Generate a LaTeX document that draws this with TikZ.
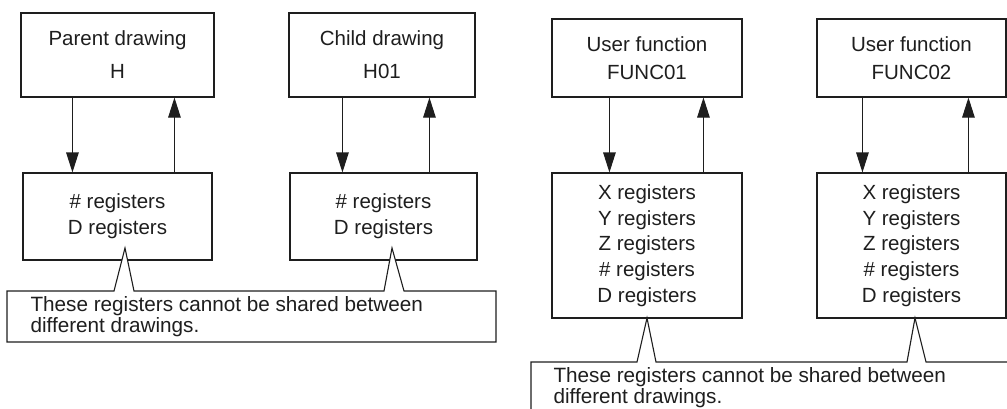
\documentclass[tikz,border=0pt]{standalone}
\usepackage{fontspec}
\setmainfont{Liberation Sans}
\usetikzlibrary{arrows.meta}
\definecolor{ink}{RGB}{30,30,30}
\begin{document}
\begin{tikzpicture}[x=1pt,y=-1pt,line width=1.1pt,
  ln/.style={draw=ink},
  box/.style={draw=ink,rectangle,inner sep=0pt,align=center,text=ink},
  arr/.style={draw=ink,-{Triangle[length=20pt,width=12.5pt]}},
  note/.style={font=\fontsize{20.7}{20.5}\selectfont,align=left,anchor=north west,inner sep=0pt,text=ink}]
\useasboundingbox (0,0) rectangle (1007,408);
\begin{scope}
\clip (0,0) rectangle (1007,408);
% left group
\node[box,minimum width=193pt,minimum height=84pt,font=\fontsize{20.5}{33}\selectfont] (p1) at (117.5,55) {Parent drawing\\H};
\node[box,minimum width=186pt,minimum height=84pt,font=\fontsize{20.5}{33}\selectfont] (p2) at (382,55) {Child drawing\\H01};
\node[box,minimum width=189pt,minimum height=87pt,font=\fontsize{20.5}{26}\selectfont] (r1) at (117.5,216.5) {\# registers\\D registers};
\node[box,minimum width=187pt,minimum height=87pt,font=\fontsize{20.5}{26}\selectfont] (r2) at (383.5,216.5) {\# registers\\D registers};
\draw[arr] ([xshift=52pt]p1.south west) -- ([xshift=52pt]p1.south west |- r1.north);
\draw[arr] ([xshift=154pt]p1.south west |- r1.north) -- ([xshift=154pt]p1.south west);
\draw[arr] ([xshift=54pt]p2.south west) -- ([xshift=54pt]p2.south west |- r2.north);
\draw[arr] ([xshift=141pt]p2.south west |- r2.north) -- ([xshift=141pt]p2.south west);
% left callout
\draw[ln,fill=white] (7,291) -- (114,291) -- (125,248) -- (134,291) -- (384,291) -- (392,248) -- (404,291) -- (496,291) -- (496,342) -- (7,342) -- cycle;
\node[note] (n1) at (30,296) {These registers cannot be shared between\\different drawings.};
% right group
\node[box,minimum width=190pt,minimum height=78pt,font=\fontsize{20.5}{28}\selectfont] (f1) at (647,58) {User function\\FUNC01};
\node[box,minimum width=189pt,minimum height=78pt,font=\fontsize{20.5}{28}\selectfont] (f2) at (911.5,58) {User function\\FUNC02};
\node[box,minimum width=190pt,minimum height=145pt,font=\fontsize{20.5}{25.6}\selectfont] (g1) at (647,245.5) {X registers\\Y registers\\Z registers\\\# registers\\D registers};
\node[box,minimum width=189pt,minimum height=145pt,font=\fontsize{20.5}{25.6}\selectfont] (g2) at (911.5,245.5) {X registers\\Y registers\\Z registers\\\# registers\\D registers};
\draw[arr] ([xshift=58pt]f1.south west) -- ([xshift=58pt]f1.south west |- g1.north);
\draw[arr] ([xshift=152pt]f1.south west |- g1.north) -- ([xshift=152pt]f1.south west);
\draw[arr] ([xshift=46pt]f2.south west) -- ([xshift=46pt]f2.south west |- g2.north);
\draw[arr] ([xshift=152pt]f2.south west |- g2.north) -- ([xshift=152pt]f2.south west);
% right callout (runs off the page)
\draw[ln,fill=white] (531,420) -- (531,362) -- (637,362) -- (647,318) -- (656,362) -- (907,362) -- (915,318) -- (926,362) -- (1020,362);
\node[note] (n2) at (553,367) {These registers cannot be shared between\\different drawings.};
\end{scope}
\end{tikzpicture}
\end{document}
